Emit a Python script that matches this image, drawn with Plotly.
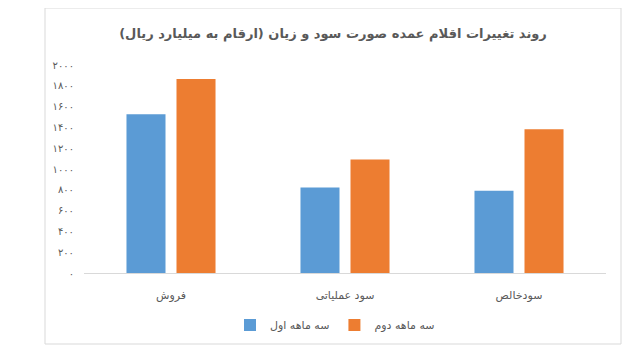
import plotly.graph_objects as go

categories = ["فروش", "سود عملیاتی", "سودخالص"]
q1_values = [1527, 821, 792]
q2_values = [1865, 1092, 1382]
series_names = ["سه ماهه اول", "سه ماهه دوم"]
tick_vals = [0, 200, 400, 600, 800, 1000, 1200, 1400, 1600, 1800, 2000]
tick_text = ["۰", "۲۰۰", "۴۰۰", "۶۰۰", "۸۰۰", "۱۰۰۰", "۱۲۰۰", "۱۴۰۰", "۱۶۰۰", "۱۸۰۰", "۲۰۰۰"]
title_text = "روند تغییرات اقلام عمده صورت سود و زیان (ارقام به میلیارد ریال)"

FONT = "DejaVu Sans"
GRAY = "#595959"

fig = go.Figure()
fig.add_trace(go.Bar(x=categories, y=q1_values, name=series_names[0],
                     marker=dict(color="#5B9BD5", line=dict(width=0))))
fig.add_trace(go.Bar(x=categories, y=q2_values, name=series_names[1],
                     marker=dict(color="#ED7D31", line=dict(width=0))))

# page body has an 8px margin: work in screen coords and subtract it
OFF = 8
W, H = 630 - OFF, 362 - OFF
L = 84 - OFF
R = W - (606 - OFF)
T = int(65.5 - OFF)
B = H - (273 - OFF)
pw, ph = W - L - R, H - T - B

def px(x):
    return (x - OFF - L) / pw

def py(y):
    return (H - B - (y - OFF)) / ph

fig.update_layout(
    width=W, height=H,
    margin=dict(l=L, r=R, t=T, b=B, autoexpand=False),
    paper_bgcolor="white", plot_bgcolor="white",
    font=dict(family=FONT, color=GRAY, size=11),
    title=dict(text="<b>" + title_text + "</b>", x=(333 - OFF) / W, xref="container", xanchor="center",
               y=1 - (33 - OFF) / H, yref="container", yanchor="middle",
               font=dict(family=FONT, size=13, color=GRAY)),
    barmode="group", bargap=0.425, bargroupgap=0.22,
    showlegend=True,
    legend=dict(orientation="h", x=px(335), xanchor="center", y=py(325), yanchor="middle",
                font=dict(family=FONT, size=11, color=GRAY), traceorder="normal",
                itemwidth=30),
    xaxis=dict(showline=True, linecolor="#d9d9d9", linewidth=1, showgrid=False,
               ticks="", ticklabelstandoff=12,
               tickfont=dict(family=FONT, size=11, color=GRAY), fixedrange=True),
    yaxis=dict(range=[0, 2000], tickvals=tick_vals, ticktext=tick_text, showgrid=False,
               showline=False, zeroline=False, ticks="", ticklabelstandoff=9,
               tickfont=dict(family=FONT, size=10, color=GRAY)),
    shapes=[dict(type="rect", xref="paper", yref="paper",
                 x0=px(45), x1=px(621), y0=py(344), y1=py(8),
                 line=dict(color="#d9d9d9", width=1), fillcolor="rgba(0,0,0,0)", layer="below")],
)

fig.write_html("out.html")
